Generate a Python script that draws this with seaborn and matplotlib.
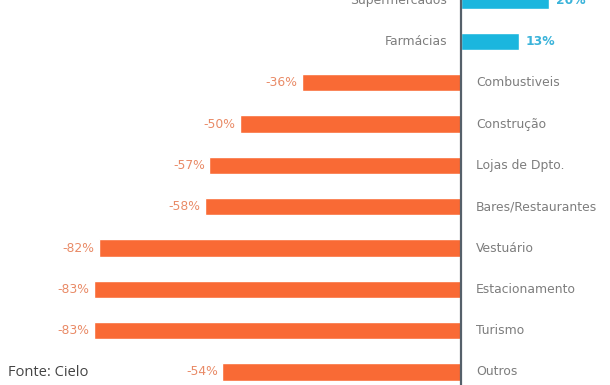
import matplotlib
matplotlib.use("Agg")
import matplotlib.pyplot as plt
import seaborn as sns
import pandas as pd

categorias = ["Supermercados", "Farmácias", "Combustiveis", "Construção",
              "Lojas de Dpto.", "Bares/Restaurantes", "Vestuário",
              "Estacionamento", "Turismo", "Outros"]
variacao = [20, 13, -36, -50, -57, -58, -82, -83, -83, -54]
rotulos = ["20%", "13%", "-36%", "-50%", "-57%", "-58%", "-82%", "-83%", "-83%", "-54%"]

LARANJA = "#f96a35"
AZUL = "#1bb6de"
TXT_LARANJA = "#e98a66"
TXT_AZUL = "#3ab3da"
CINZA = "#7d7d7d"

df = pd.DataFrame({"categoria": categorias, "variacao": variacao})
df["sinal"] = ["pos" if v > 0 else "neg" for v in variacao]

sns.set_theme(style="white")
plt.rcParams["font.family"] = ["DejaVu Sans"]

fig = plt.figure(figsize=(6.10, 3.85), dpi=100)
ax = fig.add_axes([0, 0, 1, 1])

sns.barplot(data=df, y="categoria", x="variacao", hue="sinal",
            palette={"pos": AZUL, "neg": LARANJA}, orient="h",
            width=0.42, dodge=False, legend=False, ax=ax, saturation=1)

ax.set_xlim(-104.3, 33.7)
ax.set_ylim(9.317, -0.005)
ax.axis("off")
ax.axvline(0, color="#55606a", lw=1.6, zorder=5)

FS = 8.9
for i, (cat, v, r) in enumerate(zip(categorias, variacao, rotulos)):
    if v > 0:
        ax.text(-3.2, i, cat, ha="right", va="center", fontsize=FS, color=CINZA)
        ax.text(v + 1.5, i, r, ha="left", va="center", fontsize=FS,
                color=TXT_AZUL, fontweight="bold")
    else:
        ax.text(3.4, i, cat, ha="left", va="center", fontsize=FS, color=CINZA)
        ax.text(v - 1.0, i, r, ha="right", va="center", fontsize=FS,
                color=TXT_LARANJA)

fig.text(8 / 610, 1 - 372 / 385, "Fonte: Cielo", ha="left", va="center",
         fontsize=10.5, color="#444444", family=["Open Sans", "DejaVu Sans"])

fig.savefig("out.png", dpi=100, facecolor="white")
